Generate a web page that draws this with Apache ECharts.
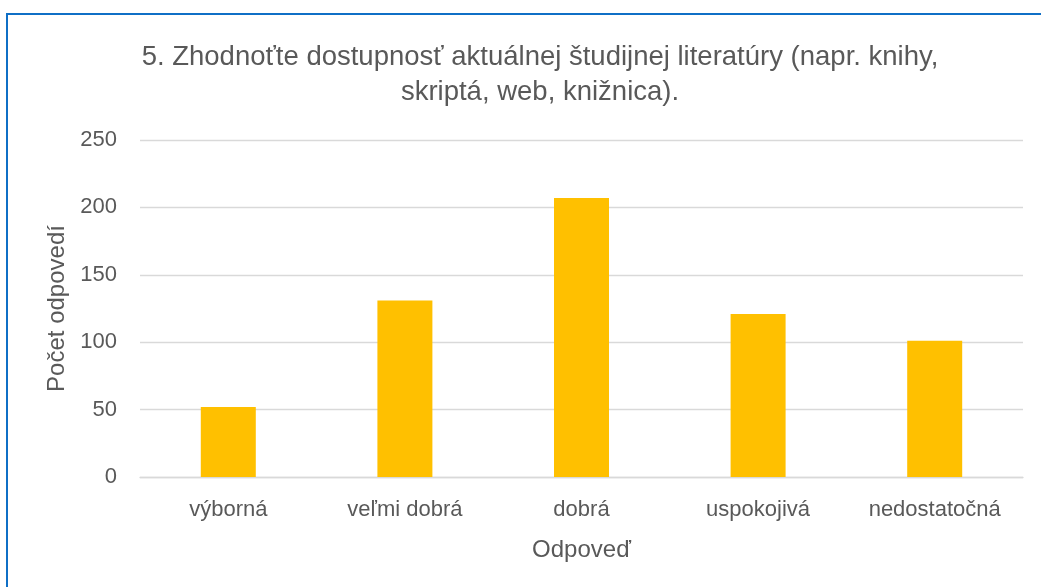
<!DOCTYPE html>
<html>
<head>
<meta charset="utf-8">
<script src="https://cdn.jsdelivr.net/npm/echarts@6/dist/echarts.min.js"></script>
<style>
    html, body { margin: 0; padding: 0; background: #fff; }
    #frame {
        position: absolute; left: 6px; top: 13px;
        width: 1100px; height: 640px;
        border-left: 2px solid #0F6FC6; border-top: 2px solid #0F6FC6;
        box-sizing: border-box;
    }
    #chart1 { position: absolute; left: 0; top: 0; width: 1041px; height: 587px; }
</style>
</head>
<body>
<div id="frame"></div>
<div id="chart1"></div>
<script>
// 5. otázka - dostupnosť literatúry
var categories = ['výborná', 'veľmi dobrá', 'dobrá', 'uspokojivá', 'nedostatočná'];
var counts = [52, 131, 207, 121, 101];
var yTicks = [0, 50, 100, 150, 200, 250];

var myChart1 = echarts.init(document.getElementById('chart1'));

var txt = '#595959';
var font = 'Liberation Sans';

var option1 = {
    animation: false,
    title: {
        text: '5. Zhodnoťte dostupnosť aktuálnej študijnej literatúry (napr. knihy,\nskriptá, web, knižnica).',
        left: 535,
        top: 35,
        textAlign: 'center',
        textStyle: {
            color: txt,
            fontFamily: font,
            fontSize: 27.5,
            fontWeight: 'normal',
            lineHeight: 35
        }
    },
    grid: {
        left: 140,
        right: 18,
        top: 140,
        bottom: 110
    },
    xAxis: {
        type: 'category',
        data: categories,
        name: 'Odpoveď',
        nameLocation: 'middle',
        nameGap: 61,
        nameTextStyle: { color: txt, fontFamily: font, fontSize: 24 },
        axisLine: { lineStyle: { color: '#d9d9d9', width: 1.3 } },
        axisTick: { show: false },
        axisLabel: { color: txt, fontFamily: font, fontSize: 22, margin: 22 }
    },
    yAxis: {
        type: 'value',
        min: yTicks[0],
        max: yTicks[yTicks.length - 1],
        interval: 50,
        name: 'Počet odpovedí',
        nameLocation: 'middle',
        nameGap: 66,
        nameTextStyle: { color: txt, fontFamily: font, fontSize: 24 },
        axisLine: { show: false },
        axisTick: { show: false },
        axisLabel: { color: txt, fontFamily: font, fontSize: 22, margin: 23 },
        splitLine: { lineStyle: { color: '#d9d9d9', width: 1.3 } }
    },
    series: [
        {
            type: 'bar',
            data: counts,
            barWidth: 55,
            itemStyle: { color: '#FFC000' }
        }
    ]
};

myChart1.setOption(option1);
</script>
</body>
</html>
